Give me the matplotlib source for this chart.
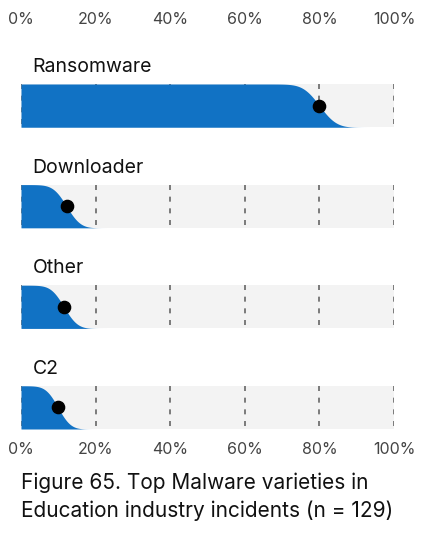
"""
top malware varieties in education incidents, dbir-style interval bars
"""

import math
import numpy as np
import matplotlib.pyplot as plt

categories = ["Ransomware", "Downloader", "Other", "C2"]
shares = [0.80, 0.122, 0.115, 0.099]
n_incidents = 129
tick_values = [0, 0.2, 0.4, 0.6, 0.8, 1.0]
tick_labels = ["0%", "20%", "40%", "60%", "80%", "100%"]
caption_lines = ["Figure 65. Top Malware varieties in",
                 "Education industry incidents (n = 129)"]

BLUE = "#1172c4"
GREY = "#f3f3f3"
LINE = "#666666"
FONT = "Inter"

W, H = 447, 533
fig = plt.figure(figsize=(W / 100, H / 100), dpi=100)

# axes spans 0%..100% horizontally and first bar top .. last bar bottom vertically
x0, x1 = 21, 394
y_top, y_bot = 84, 429
ax = fig.add_axes([x0 / W, 1 - y_bot / H, (x1 - x0) / W, (y_bot - y_top) / H])

bar_h = 0.43
ax.set_xlim(0, 1)
ax.set_ylim(len(categories) - 1 + bar_h / 2, -bar_h / 2)
ax.axis("off")


def normal_cdf(x, mu, sd):
    return 0.5 * (1 + math.erf((x - mu) / (sd * math.sqrt(2))))


xs = np.linspace(0, 1, 800)
for i, (name, p) in enumerate(zip(categories, shares)):
    top = i - bar_h / 2
    bot = i + bar_h / 2
    ax.fill_between([0, 1], top, bot, color=GREY, lw=0, zorder=1)

    for t in tick_values:
        ax.plot([t, t], [top, bot], color=LINE, lw=1.2, ls=(0, (3, 4)), zorder=2)

    sd = math.sqrt(p * (1 - p) / n_incidents)
    frac = np.array([1 - normal_cdf(x, p, sd) for x in xs])
    ax.fill_between(xs, bot, bot - bar_h * frac, color=BLUE, lw=0, zorder=3)

    ax.plot([p], [i], "o", color="black", ms=8.8, zorder=4)

    ax.text(0.031, top - 0.12, name, fontsize=14, family=FONT, color="#111111",
            ha="left", va="baseline", zorder=5)

# tick labels top and bottom
for t, lab in zip(tick_values, tick_labels):
    fig.text((x0 + t * (x1 - x0)) / W, 1 - 20 / H, lab, fontsize=11.5, family=FONT,
             color="#444444", ha="center", va="center")
    fig.text((x0 + t * (x1 - x0)) / W, 1 - 450 / H, lab, fontsize=11.5, family=FONT,
             color="#444444", ha="center", va="center")

for k, line in enumerate(caption_lines):
    fig.text(21 / W, 1 - (489 + 28 * k) / H, line, fontsize=15, family=FONT,
             color="#111111", ha="left", va="baseline")

fig.savefig("out.png", dpi=100, facecolor="white")
